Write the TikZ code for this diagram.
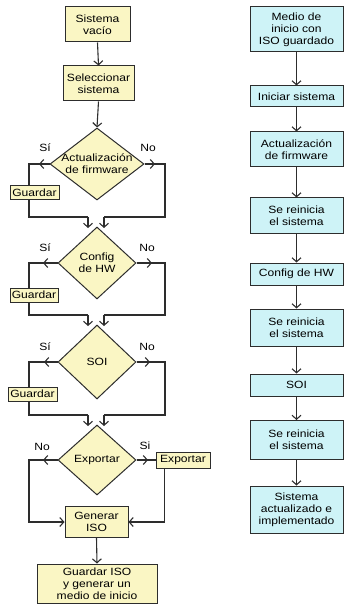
\documentclass[tikz,border=0pt]{standalone}
\usepackage{fontspec}
\setmainfont[FakeStretch=1.15]{Liberation Sans}
\usetikzlibrary{arrows.meta,shapes.geometric}
\pgfdeclarelayer{bg}
\pgfsetlayers{bg,main}
\definecolor{fy}{RGB}{250,246,196}
\definecolor{fc}{RGB}{206,243,247}
\definecolor{ln}{RGB}{45,45,45}
\begin{document}
\begin{tikzpicture}[x=1pt,y=-1pt,
  every node/.style={font=\fontsize{10.5}{12.2}\selectfont},
  ybox/.style={draw=ln, line width=1pt, fill=fy, align=center, inner sep=0pt},
  cbox/.style={draw=ln, line width=1pt, fill=fc, align=center, inner sep=0pt, minimum width=93pt},
  dia/.style={diamond, draw=ln, line width=1pt, fill=fy, inner sep=0pt},
  conn/.style={draw=ln, line width=1.1pt},
  arr/.style={conn, -{Straight Barb[length=4pt,width=9pt]}},
  lbl/.style={inner sep=0pt, align=center}
]
\useasboundingbox (0,0) rectangle (344,612);

% ---------- left column ----------
\node[ybox, minimum width=65pt, minimum height=35pt] (sv) at (97.5,24.5) {Sistema\\vacío};
\node[ybox, minimum width=71pt, minimum height=35pt] (sel) at (98.5,83.5) {Seleccionar\\sistema};

\node[dia, minimum width=94pt, minimum height=72pt] (d1) at (97,164) {};
\node[lbl] (d1t) at (97,164) {Actualización\\de firmware};
\node[lbl] (s1) at (45,148) {Sí};
\node[lbl] (n1) at (148,148) {No};
\node[ybox, minimum width=49pt, minimum height=14pt] (g1) at (34.5,193) {Guardar};

\node[dia, minimum width=78pt, minimum height=72pt] (d2) at (97,263) {};
\node[lbl] (d2t) at (97,263) {Config\\de HW};
\node[lbl] (s2) at (45,248) {Sí};
\node[lbl] (n2) at (147,248) {No};
\node[ybox, minimum width=48pt, minimum height=14pt] (g2) at (34,295) {Guardar};

\node[dia, minimum width=78pt, minimum height=74pt] (d3) at (97,362) {};
\node[lbl] (d3t) at (97,362) {SOI};
\node[lbl] (s3) at (45,347) {Sí};
\node[lbl] (n3) at (147,347) {No};
\node[ybox, minimum width=49pt, minimum height=14pt] (g3) at (32.5,394) {Guardar};

\node[dia, minimum width=78pt, minimum height=70pt] (d4) at (97,460) {};
\node[lbl] (d4t) at (97,460) {Exportar};
\node[lbl] (n4) at (42,447) {No};
\node[lbl] (s4) at (145,446) {Si};
\node[ybox, minimum width=54pt, minimum height=16pt] (ex) at (183,460) {Exportar};

\node[ybox, minimum width=63pt, minimum height=31pt] (gen) at (96.5,522) {Generar\\ISO};
\node[ybox, minimum width=120pt, minimum height=39pt] (gi) at (97,583.5) {Guardar ISO\\y generar un\\medio de inicio};

% coordinates
\coordinate (c1L) at (29,164);  \coordinate (c1R) at (165,164);
\coordinate (c1LB) at (29,217); \coordinate (c1RB) at (165,217);
\coordinate (m1a) at (88,217);  \coordinate (m1b) at (104,217);
\coordinate (t2a) at (88,228);  \coordinate (t2b) at (104,228);
\coordinate (a1L) at (39,164);  \coordinate (a1R) at (155,164);

\coordinate (c2L) at (29,263);  \coordinate (c2R) at (165,263);
\coordinate (c2LB) at (29,315); \coordinate (c2RB) at (165,315);
\coordinate (m2a) at (88,315);  \coordinate (m2b) at (104,315);
\coordinate (t3a) at (88,326);  \coordinate (t3b) at (104,326);
\coordinate (a2L) at (43,263);  \coordinate (a2R) at (152,263);

\coordinate (c3L) at (29,362);  \coordinate (c3R) at (165,362);
\coordinate (c3LB) at (29,415); \coordinate (c3RB) at (165,415);
\coordinate (m3a) at (88,415);  \coordinate (m3b) at (104,415);
\coordinate (t4a) at (88,426);  \coordinate (t4b) at (104,426);
\coordinate (a3L) at (44,362);  \coordinate (a3R) at (150,362);

\coordinate (c4L) at (29,460);
\coordinate (a4L) at (43,460);  \coordinate (a4R) at (148,460);

% ---------- right column ----------
\node[cbox, minimum height=45pt] (r1) at (296.5,29.5) {Medio de\\inicio con\\ISO guardado};
\node[cbox, minimum height=21pt] (r2) at (296.5,96.5) {Iniciar sistema};
\node[cbox, minimum height=35pt] (r3) at (296.5,149.5) {Actualización\\de firmware};
\node[cbox, minimum height=35pt] (r4) at (296.5,215.5) {Se reinicia\\el sistema};
\node[cbox, minimum height=22pt] (r5) at (296.5,274) {Config de HW};
\node[cbox, minimum height=37pt] (r6) at (296.5,327.5) {Se reinicia\\el sistema};
\node[cbox, minimum height=22pt] (r7) at (296.5,385) {SOI};
\node[cbox, minimum height=39pt] (r8) at (296.5,440) {Se reinicia\\el sistema};
\node[cbox, minimum height=47pt] (r9) at (296.5,509.5) {Sistema\\actualizado e\\implementado};

\begin{pgfonlayer}{bg}
  \draw[arr] (sv.south) -- (sel.north);
  \draw[arr] (sel.south) -- (d1.north);

  \draw[conn] (d1.west) -- (c1L) -- (c1LB) -- (m1a);
  \draw[arr] (d1.west) -- (a1L);
  \draw[arr] (m1a) -- (t2a);
  \draw[conn] (d1.east) -- (c1R) -- (c1RB) -- (m1b);
  \draw[arr] (d1.east) -- (a1R);
  \draw[arr] (m1b) -- (t2b);

  \draw[conn] (d2.west) -- (c2L) -- (c2LB) -- (m2a);
  \draw[arr] (d2.west) -- (a2L);
  \draw[arr] (m2a) -- (t3a);
  \draw[conn] (d2.east) -- (c2R) -- (c2RB) -- (m2b);
  \draw[arr] (d2.east) -- (a2R);
  \draw[arr] (m2b) -- (t3b);

  \draw[conn] (d3.west) -- (c3L) -- (c3LB) -- (m3a);
  \draw[arr] (d3.west) -- (a3L);
  \draw[arr] (m3a) -- (t4a);
  \draw[conn] (d3.east) -- (c3R) -- (c3RB) -- (m3b);
  \draw[arr] (d3.east) -- (a3R);
  \draw[arr] (m3b) -- (t4b);

  \draw[arr] (d4.west) -- (c4L) |- (gen.west);
  \draw[arr] (d4.west) -- (a4L);
  \draw[conn] (d4.east) -- (ex.west);
  \draw[arr] (d4.east) -- (a4R);
  \draw[arr] ([xshift=9pt]ex.south west) |- (gen.east);
  \draw[arr] (gen.south) -- (gi.north);

  \draw[arr] (r1.south) -- (r2.north);
  \draw[arr] (r2.south) -- (r3.north);
  \draw[arr] (r3.south) -- (r4.north);
  \draw[arr] (r4.south) -- (r5.north);
  \draw[arr] (r5.south) -- (r6.north);
  \draw[arr] (r6.south) -- (r7.north);
  \draw[arr] (r7.south) -- (r8.north);
  \draw[arr] (r8.south) -- (r9.north);
\end{pgfonlayer}
\end{tikzpicture}
\end{document}
